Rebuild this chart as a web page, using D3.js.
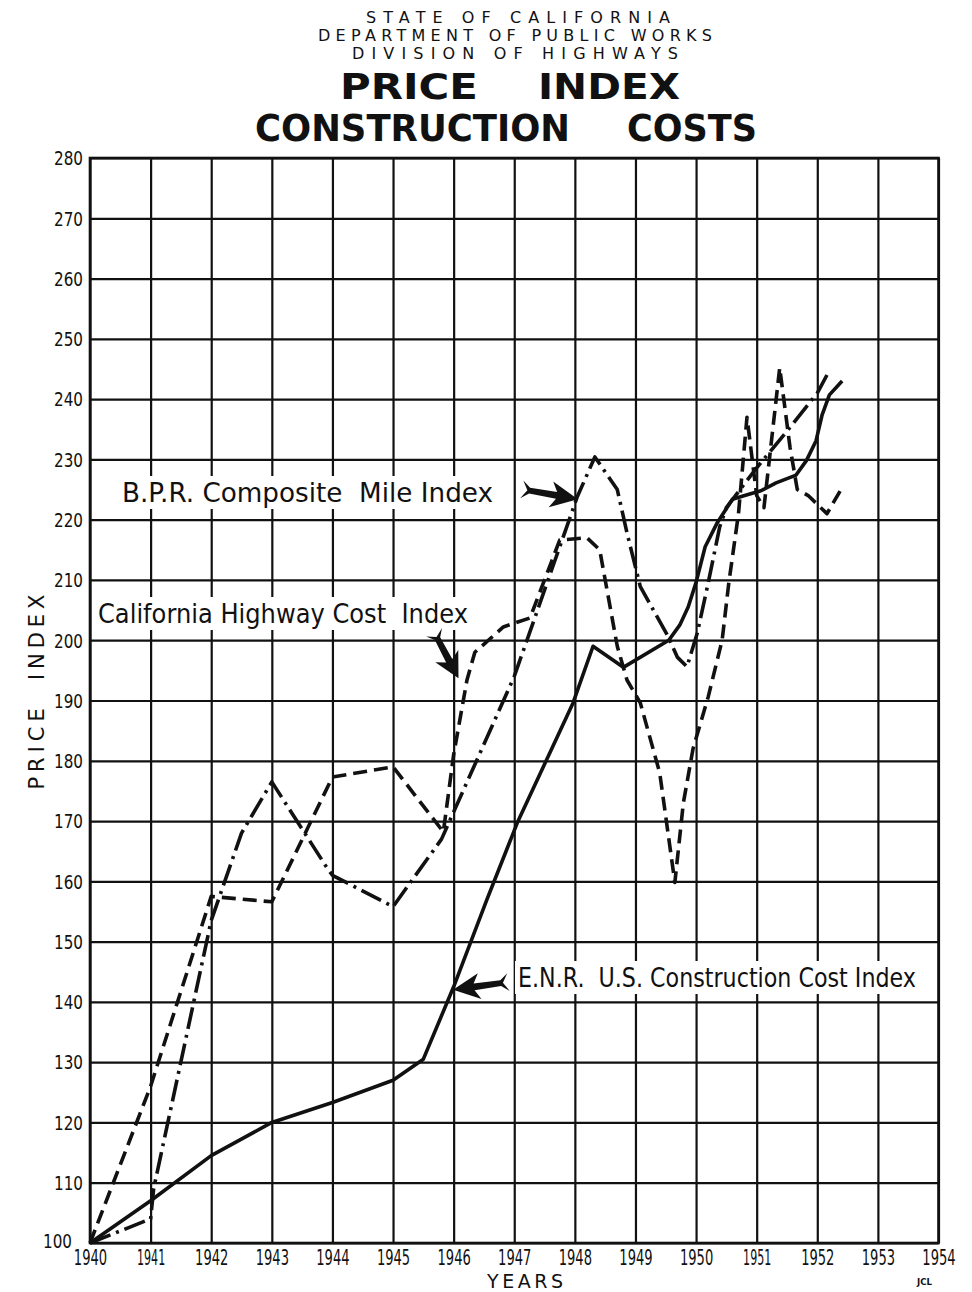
<!DOCTYPE html>
<html>
<head>
<meta charset="utf-8">
<script src="https://cdn.jsdelivr.net/npm/d3@7"></script>
<style>
  html, body { margin: 0; padding: 0; background: #fff; }
  svg { display: block; }
  text { font-family: 'DejaVu Sans', 'Liberation Sans', sans-serif; fill: #111; }
</style>
</head>
<body>
<svg id="chart" width="972" height="1292"></svg>
<script>
// ---- Axis ticks and labels ----
const yearTicks  = [1940, 1941, 1942, 1943, 1944, 1945, 1946, 1947, 1948, 1949, 1950, 1951, 1952, 1953, 1954];
const yearLabels = ["1940", "1941", "1942", "1943", "1944", "1945", "1946", "1947", "1948", "1949", "1950", "1951", "1952", "1953", "1954"];
const indexTicks  = [100, 110, 120, 130, 140, 150, 160, 170, 180, 190, 200, 210, 220, 230, 240, 250, 260, 270, 280];
const indexLabels = ["100", "110", "120", "130", "140", "150", "160", "170", "180", "190", "200", "210", "220", "230", "240", "250", "260", "270", "280"];

// ---- E.N.R. U.S. Construction Cost Index (solid) ----
const enrYears  = [1940, 1941, 1942, 1943, 1944, 1945, 1945.5, 1946, 1946.55, 1947.05, 1947.97, 1948.3, 1948.8, 1949.55, 1949.73, 1949.87, 1950.0, 1950.15, 1950.35, 1950.6, 1950.83, 1951.07, 1951.32, 1951.65, 1951.82, 1951.98, 1952.08, 1952.2, 1952.41];
const enrValues = [100, 107, 114.5, 120, 123.3, 127, 130.5, 142.5, 157, 169.7, 189.6, 199, 195.5, 200, 202.5, 205.5, 209.6, 215.5, 219.5, 223.4, 224.1, 224.8, 226.1, 227.4, 229.8, 233.1, 237.4, 240.7, 243];

// ---- B.P.R. Composite Mile Index (dash-dot) ----
const bprYears  = [1940, 1941, 1941.05, 1942, 1942.5, 1943, 1943.9, 1944, 1945, 1945.8, 1947, 1948.04, 1948.33, 1948.7, 1948.86, 1949.08, 1949.54, 1949.69, 1949.85, 1950.02, 1950.2, 1950.39, 1950.5, 1951.0, 1951.55, 1952.0, 1952.16];
const bprValues = [100, 104, 109, 153.5, 168, 176.5, 162.4, 161, 155.8, 167, 194, 223.8, 230.4, 225, 217.8, 208.9, 200.6, 197.2, 195.6, 201.2, 209.5, 218.8, 222, 228.6, 235.3, 241, 244];

// ---- California Highway Cost Index (dashed) ----
const calYears  = [1940, 1941, 1942, 1943, 1943.6, 1944, 1945, 1945.83, 1946, 1946.22, 1946.35, 1946.82, 1947.26, 1947.75, 1948.2, 1948.41, 1948.7, 1948.86, 1949.08, 1949.4, 1949.65, 1949.79, 1949.95, 1950.2, 1950.43, 1950.54, 1950.7, 1950.84, 1951.0, 1951.12, 1951.38, 1951.55, 1951.67, 1951.85, 1952.16, 1952.42];
const calValues = [100, 126, 157.5, 156.6, 169, 177.3, 179, 168.2, 181, 193.4, 198, 202.2, 203.7, 216.6, 217, 215, 199, 193.4, 189.6, 178, 159.8, 173, 182, 190.6, 200, 209.5, 221, 237, 224, 222, 245.2, 232, 225, 224, 221, 225.5];

// ---- Layout ----
const svg = d3.select("#chart");
const plot = { left: 90, right: 938.5, top: 158, bottom: 1243 };
const x = d3.scaleLinear().domain([1940, 1954]).range([plot.left, plot.right]);
const y = d3.scaleLinear().domain([100, 280]).range([plot.bottom, plot.top]);
const ink = "#111";

// ---- Title block ----
const title = svg.append("g");
function titleText(str, x0, x1, base, size, weight, adjust) {
  title.append("text")
    .attr("x", x0).attr("y", base)
    .attr("textLength", x1 - x0)
    .attr("lengthAdjust", adjust)
    .style("font-size", size + "px")
    .style("font-weight", weight)
    .style("white-space", "pre")
    .text(str);
}
titleText("STATE OF CALIFORNIA", 366, 670, 23, 16, "normal", "spacing");
titleText("DEPARTMENT OF PUBLIC WORKS", 318, 712, 41, 16, "normal", "spacing");
titleText("DIVISION OF HIGHWAYS", 352, 678, 59, 16, "normal", "spacing");
titleText("PRICE", 340, 478, 99, 35, "bold", "spacingAndGlyphs");
titleText("INDEX", 538, 680, 99, 35, "bold", "spacingAndGlyphs");
titleText("CONSTRUCTION", 255, 570, 141, 38, "bold", "spacingAndGlyphs");
titleText("COSTS", 627, 757, 141, 38, "bold", "spacingAndGlyphs");

// ---- Grid from the axes ----
const gx = svg.append("g")
  .attr("transform", `translate(0,${plot.bottom})`)
  .call(d3.axisBottom(x)
    .tickValues(yearTicks)
    .tickSize(-(plot.bottom - plot.top))
    .tickPadding(6)
    .tickFormat((d, i) => yearLabels[i]));
const gy = svg.append("g")
  .attr("transform", `translate(${plot.left},0)`)
  .call(d3.axisLeft(y)
    .tickValues(indexTicks)
    .tickSize(-(plot.right - plot.left))
    .tickPadding(7)
    .tickFormat((d, i) => indexLabels[i]));

[gx, gy].forEach(g => {
  g.select(".domain").remove();
  g.selectAll(".tick line").attr("stroke", ink).attr("stroke-width", 2.2);
});

gx.selectAll(".tick text")
  .attr("y", 7)
  .attr("dy", "0.71em")
  .style("font-size", "21px")
  .attr("fill", ink)
  .attr("textLength", d => {
    const s = String(d);
    const ones = s.split("").filter(c => c === "1").length;
    return ones * 4.5 + (s.length - ones) * 9.6;
  })
  .attr("lengthAdjust", "spacingAndGlyphs");

gy.selectAll(".tick text")
  .attr("x", d => d === 100 ? -18 : -7)
  .attr("dy", d => d === 100 ? "0.2em" : "0.34em")
  .style("font-size", "20px")
  .attr("fill", ink)
  .attr("textLength", 29)
  .attr("lengthAdjust", "spacingAndGlyphs");

// outer frame
svg.append("rect")
  .attr("x", plot.left).attr("y", plot.top)
  .attr("width", plot.right - plot.left).attr("height", plot.bottom - plot.top)
  .attr("fill", "none").attr("stroke", ink).attr("stroke-width", 2.6);

// ---- Axis titles ----
svg.append("text")
  .attr("transform", "translate(44,692) rotate(-90)")
  .attr("text-anchor", "middle")
  .attr("textLength", 195)
  .attr("lengthAdjust", "spacing")
  .style("font-size", "21px")
  .style("white-space", "pre")
  .text("PRICE  INDEX");

svg.append("text")
  .attr("x", 487).attr("y", 1288)
  .attr("textLength", 76)
  .attr("lengthAdjust", "spacing")
  .style("font-size", "19px")
  .text("YEARS");

svg.append("text")
  .attr("x", 917).attr("y", 1285)
  .attr("textLength", 15)
  .attr("lengthAdjust", "spacingAndGlyphs")
  .style("font-size", "8px")
  .style("font-weight", "bold")
  .text("JCL");

// ---- Series lines ----
const line = d3.line()
  .x(d => x(d[0]))
  .y(d => y(d[1]))
  .curve(d3.curveLinear);

const series = [
  { years: calYears, values: calValues, dash: "14 7" },
  { years: bprYears, values: bprValues, dash: "22 6 3 6" },
  { years: enrYears, values: enrValues, dash: null }
];
series.forEach(s => {
  svg.append("path")
    .datum(d3.zip(s.years, s.values))
    .attr("d", line)
    .attr("fill", "none")
    .attr("stroke", ink)
    .attr("stroke-width", 3.6)
    .attr("stroke-linejoin", "round")
    .attr("stroke-linecap", "butt")
    .attr("stroke-dasharray", s.dash);
});

// ---- Labels with white backing that breaks the grid ----
function seriesLabel(str, x0, x1, base) {
  const g = svg.append("g");
  g.append("rect")
    .attr("x", x0 - 3).attr("y", base - 26)
    .attr("width", x1 - x0 + 6).attr("height", 33)
    .attr("fill", "#fff");
  g.append("text")
    .attr("x", x0).attr("y", base)
    .attr("textLength", x1 - x0)
    .attr("lengthAdjust", "spacingAndGlyphs")
    .style("font-size", "27px")
    .style("white-space", "pre")
    .text(str);
}
seriesLabel("B.P.R. Composite  Mile Index", 122, 493, 502);
seriesLabel("California Highway Cost  Index", 98, 468, 623);
seriesLabel("E.N.R.  U.S. Construction Cost Index", 518, 916, 987);

// ---- Pointer arrows ----
function arrow(tipX, tipY, angle, L) {
  const pts = [
    [0, 0], [-L * 0.48, -13], [-L * 0.38, -3.5], [-L * 0.86, -3],
    [-L, -9], [-L * 0.9, 0], [-L, 9], [-L * 0.86, 3],
    [-L * 0.38, 3.5], [-L * 0.48, 13]
  ];
  svg.append("path")
    .attr("d", d3.line()(pts) + "Z")
    .attr("transform", `translate(${tipX},${tipY}) rotate(${angle})`)
    .attr("fill", ink);
}
arrow(x(1948.05), y(223.4), 10, 57);
arrow(x(1946.08), y(193.7), 62, 52);
arrow(x(1945.99), y(142), 172, 56);
</script>
</body>
</html>
